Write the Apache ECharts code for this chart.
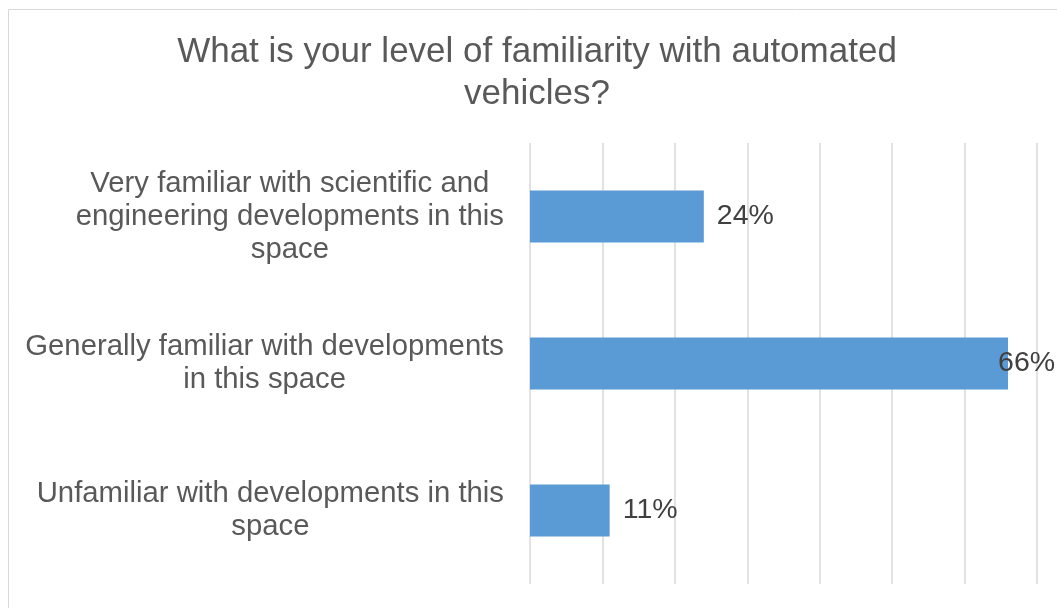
<!DOCTYPE html>
<html>
<head>
<meta charset="utf-8">
<script src="https://cdn.jsdelivr.net/npm/echarts@6/dist/echarts.min.js"></script>
<style>
  html, body { margin: 0; padding: 0; background: #ffffff; }
  #chart { width: 1057px; height: 608px; }
</style>
</head>
<body>
<div id="chart"></div>
<script>
// Survey responses: familiarity with automated vehicles
const chartTitle = 'What is your level of familiarity with automated\nvehicles?';
const categories = [
  'Very familiar with scientific and\nengineering developments in this\nspace',
  'Generally familiar with developments\nin this space',
  'Unfamiliar with developments in this\nspace'
];
const shares = [24, 66, 11];          // percent of respondents
const axisMax = 70;
const axisStep = 10;

const FONT = '"Liberation Sans", Arial, sans-serif';

const chart = echarts.init(document.getElementById('chart'), null, { renderer: 'canvas' });

// Labels for bars reaching the right edge are pulled back so they stay inside
const barData = shares.map(v => v > 60 ? { value: v, label: { distance: -10 } } : v);

chart.setOption({
  backgroundColor: '#ffffff',
  animation: false,
  title: {
    text: chartTitle,
    left: 537,
    top: 31,
    padding: 0,
    textAlign: 'center',
    textStyle: {
      fontFamily: FONT,
      fontSize: 35,
      fontWeight: 'normal',
      color: '#595959',
      lineHeight: 42
    }
  },
  graphic: [{
    type: 'rect',
    shape: { x: 8.5, y: 9.5, width: 1200, height: 800 },
    style: { fill: 'none', stroke: '#d9d9d9', lineWidth: 1 },
    silent: true
  }],
  grid: { left: 530, right: 20, top: 143, bottom: 24, containLabel: false },
  xAxis: {
    type: 'value',
    min: 0,
    max: axisMax,
    interval: axisStep,
    axisLabel: { show: false },
    axisLine: { show: false },
    axisTick: { show: false },
    splitLine: { show: true, lineStyle: { color: '#d9d9d9', width: 1.5 } }
  },
  yAxis: {
    type: 'category',
    inverse: true,
    data: categories,
    axisLine: { show: false },
    axisTick: { show: false },
    axisLabel: {
      margin: 26,
      align: 'right',
      // each line centred within the right-aligned label block
      formatter: s => s.split('\n').map(line => '{c|' + line + '}').join('\n'),
      rich: {
        c: {
          align: 'center',
          fontFamily: FONT,
          fontSize: 29.3,
          lineHeight: 33,
          color: '#595959'
        }
      }
    }
  },
  series: [{
    type: 'bar',
    data: barData,
    barWidth: 52,
    itemStyle: { color: '#5b9bd5' },
    label: {
      show: true,
      position: 'right',
      distance: 13,
      formatter: p => p.value + '%',
      fontFamily: FONT,
      fontSize: 28.5,
      color: '#404040'
    }
  }]
});
</script>
</body>
</html>
